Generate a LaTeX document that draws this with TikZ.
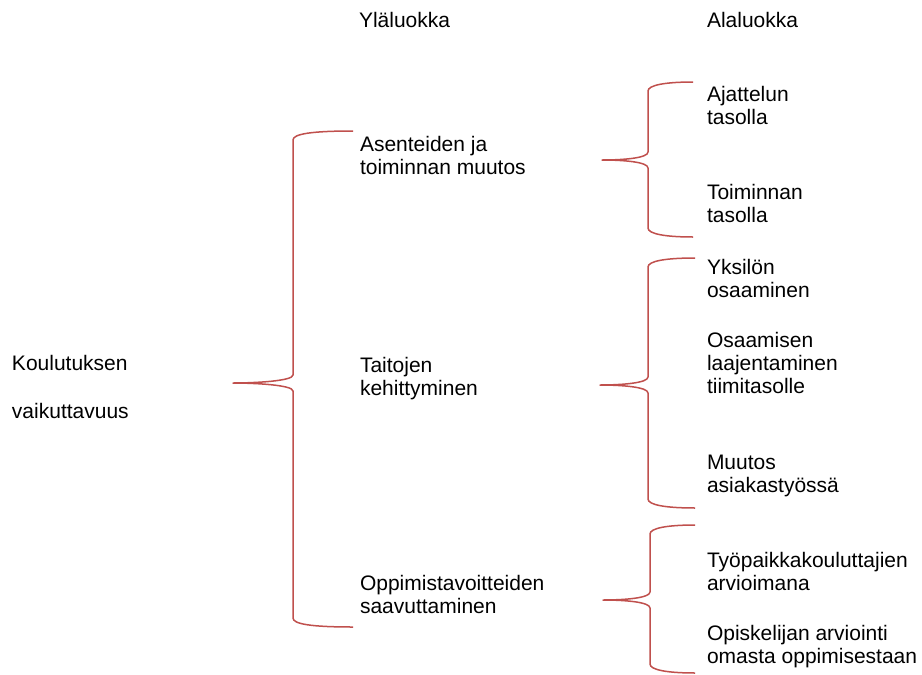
\documentclass[tikz,border=0pt]{standalone}
\usepackage{fontspec}
\setmainfont{Liberation Sans}
\definecolor{bracered}{RGB}{192,80,77}
\tikzset{
  % multi-line labels are placed by the baseline of their last line
  lbl/.style={anchor=base west, inner sep=0pt, outer sep=0pt, align=left,
    font=\fontsize{21}{23}\selectfont},
  bracestyle/.style={draw=bracered, line width=1.5pt, line join=round}
}
% left curly brace: #1 x of the open ends, #2 x of the spine, #3 x of the tip,
% #4 y of the top end, #5 y of the tip, #6 y of the bottom end
\newcommand\redbrace[6]{%
  \draw[bracestyle] (#1,#4) .. controls ({#2+18},#4) and (#2,{#4+3}) .. (#2,{#4+9})
    -- (#2,{#5-8}) .. controls (#2,{#5-2}) and ({#3+22},#5) .. (#3,#5)
    .. controls ({#3+22},#5) and (#2,{#5+2}) .. (#2,{#5+8})
    -- (#2,{#6-9}) .. controls (#2,{#6-3}) and ({#2+18},#6) .. (#1,#6);
}
\begin{document}
\begin{tikzpicture}[x=1pt,y=-1pt]
\useasboundingbox (0,0) rectangle (922,675);
\fill[white] (0,0) rectangle (922,675);

% column headings
\node[lbl] (hyla) at (359,27) {Yläluokka};
\node[lbl] (hala) at (707,27) {Alaluokka};

% root
\node[lbl] (root1) at (12,370) {Koulutuksen};
\node[lbl] (root2) at (12,418) {vaikuttavuus};

% upper classes
\node[lbl] (u1) at (360,174) {Asenteiden ja\\toiminnan muutos};
\node[lbl] (u2) at (360,395) {Taitojen\\kehittyminen};
\node[lbl] (u3) at (360,613) {Oppimistavoitteiden\\saavuttaminen};

% lower classes
\node[lbl] (a1) at (707,124) {Ajattelun\\tasolla};
\node[lbl] (a2) at (707,222) {Toiminnan\\tasolla};
\node[lbl] (b1) at (707,297) {Yksilön\\osaaminen};
\node[lbl] (b2) at (707,393) {Osaamisen\\laajentaminen\\tiimitasolle};
\node[lbl] (b3) at (707,492) {Muutos\\asiakastyössä};
\node[lbl] (c1) at (707,590) {Työpaikkakouluttajien\\arvioimana};
\node[lbl] (c2) at (707,663) {Opiskelijan arviointi\\omasta oppimisestaan};

% braces
\redbrace{353}{293}{233}{131}{383}{627}
\redbrace{693}{648}{602}{82}{160}{237}
\redbrace{695}{648}{600}{258}{385}{508}
\redbrace{695}{650}{603}{525}{600}{673}
\end{tikzpicture}
\end{document}
